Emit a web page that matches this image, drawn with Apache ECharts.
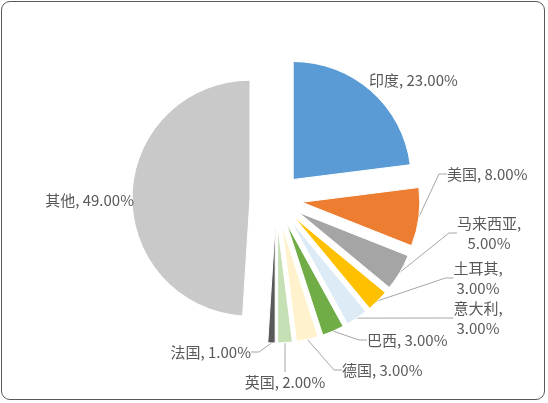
<!DOCTYPE html>
<html><head><meta charset="utf-8">
<script src="https://cdn.jsdelivr.net/npm/echarts@6/dist/echarts.min.js"></script>
<style>
html,body{margin:0;padding:0;background:#fff}
#c{position:absolute;left:0;top:0;width:548px;height:403px}
#frame{position:absolute;left:1px;top:1px;width:542px;height:397px;border:1px solid #595959;border-radius:9px;pointer-events:none}
</style></head><body>
<div id="c"></div><div id="frame"></div>
<script>
const categories = ['印度','美国','马来西亚','土耳其','意大利','巴西','德国','英国','法国','其他'];
const shares = [23, 8, 5, 3, 3, 3, 3, 2, 1, 49];
const colors = ['#5B9BD5','#ED7D31','#A5A5A5','#FFC000','#DDEBF7','#70AD47','#FFF2CC','#C5E0B4','#595959','#C9C9C9'];
const wrapped = ['马来西亚','土耳其','意大利'];
const noLine = ['印度','其他'];
// label text placement (anchor x, middle y, alignment)
const labelPlacement = [
  {x:369, y:80,  align:'left'},
  {x:447, y:174, align:'left'},
  {x:489, y:233, align:'center'},
  {x:478, y:278, align:'center'},
  {x:478, y:318, align:'center'},
  {x:367, y:340, align:'left'},
  {x:342, y:370, align:'left'},
  {x:285, y:382, align:'center'},
  {x:251, y:352, align:'right'},
  {x:134, y:200, align:'right'}
];
const pieCenter = [276, 199];
const pieRadius = 118;
const explode = 26;

const total = shares.reduce((a, b) => a + b, 0);
let cum = 0;
const series = categories.map((name, i) => {
  const mid = (cum + shares[i] / 2) / total * Math.PI * 2;
  cum += shares[i];
  const center = [pieCenter[0] + explode * Math.sin(mid), pieCenter[1] - explode * Math.cos(mid)];
  return {
    type: 'pie',
    center: center,
    radius: pieRadius,
    startAngle: 90,
    clockwise: true,
    avoidLabelOverlap: false,
    emphasis: {disabled: true},
    label: {
      show: true,
      position: 'outside',
      color: '#595959',
      fontSize: 15,
      lineHeight: 20,
      fontFamily: '"Noto Sans CJK SC", sans-serif',
      formatter: p => p.name + ',' + (wrapped.includes(p.name) ? '\n' : ' ') + p.value.toFixed(2) + '%'
    },
    labelLine: {show: !noLine.includes(name), length: 8, length2: 8, lineStyle: {color:'#A6A6A6', width:1}},
    labelLayout: function () {
      const c = labelPlacement[i];
      return {x: c.x, y: c.y, align: c.align, verticalAlign: 'middle'};
    },
    data: categories.map((n, j) => j === i ? {
      name: n, value: shares[j],
      itemStyle: {color: colors[j], borderColor: '#fff', borderWidth: 1}
    } : {
      name: n, value: shares[j],
      itemStyle: {opacity: 0, borderWidth: 0},
      label: {show: false}, labelLine: {show: false}
    })
  };
});

const chart = echarts.init(document.getElementById('c'), null, {renderer:'canvas'});
chart.setOption({animation: false, backgroundColor: 'transparent', series: series});
</script>
</body></html>
